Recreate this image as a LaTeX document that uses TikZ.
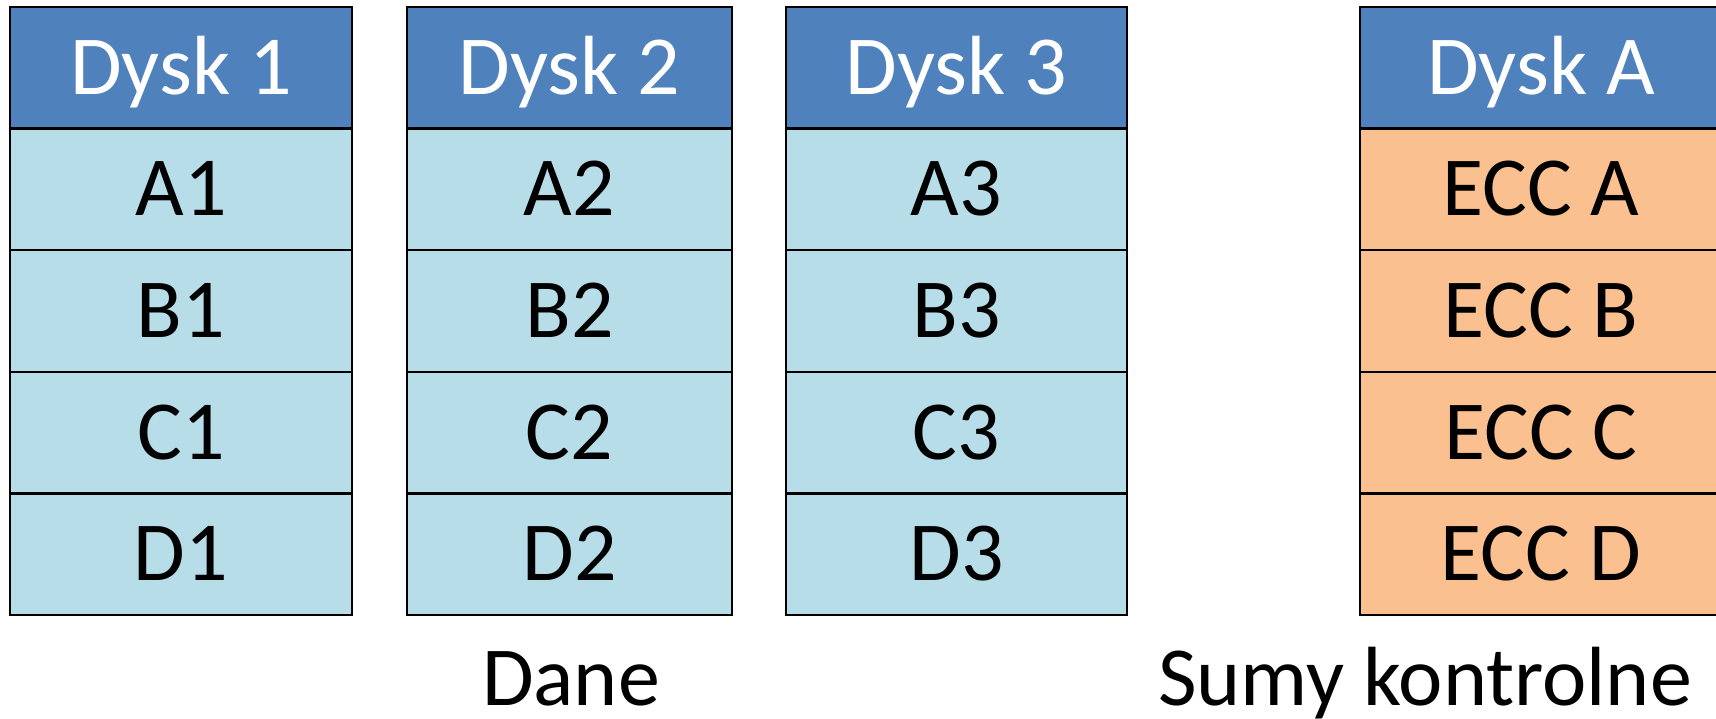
\documentclass[tikz,border=0pt]{standalone}
\usepackage{fontspec}
\setmainfont{Carlito}
\definecolor{headblue}{HTML}{4F81BD}
\definecolor{lightblue}{HTML}{B7DDE8}
\definecolor{eccorange}{HTML}{FAC090}
\tikzset{
  cell/.style={draw=black, line width=2.5pt, minimum height=121.6pt, inner sep=0pt,
    text height=53pt, text depth=0pt, font=\fontsize{84}{100}\selectfont},
  head/.style={cell, fill=headblue, text=white},
  datacell/.style={cell, fill=lightblue},
  ecccell/.style={cell, fill=eccorange},
  caption/.style={anchor=base, inner sep=0pt, font=\fontsize{84}{100}\selectfont}
}
\begin{document}
\begin{tikzpicture}[x=1pt,y=-1pt]
\useasboundingbox (0,0) rectangle (1716,718);
% column 1
\node[head, minimum width=342pt] (h1) at (181,67.8) {Dysk 1};
\node[datacell, minimum width=342pt] (a1) at (181,189.4) {A1};
\node[datacell, minimum width=342pt] (b1) at (181,311.0) {B1};
\node[datacell, minimum width=342pt] (c1) at (181,432.6) {C1};
\node[datacell, minimum width=342pt] (d1) at (181,554.2) {D1};
% column 2
\node[head, minimum width=325pt] (h2) at (569.5,67.8) {Dysk 2};
\node[datacell, minimum width=325pt] (a2) at (569.5,189.4) {A2};
\node[datacell, minimum width=325pt] (b2) at (569.5,311.0) {B2};
\node[datacell, minimum width=325pt] (c2) at (569.5,432.6) {C2};
\node[datacell, minimum width=325pt] (d2) at (569.5,554.2) {D2};
% column 3
\node[head, minimum width=341pt] (h3) at (956.5,67.8) {Dysk 3};
\node[datacell, minimum width=341pt] (a3) at (956.5,189.4) {A3};
\node[datacell, minimum width=341pt] (b3) at (956.5,311.0) {B3};
\node[datacell, minimum width=341pt] (c3) at (956.5,432.6) {C3};
\node[datacell, minimum width=341pt] (d3) at (956.5,554.2) {D3};
% column A
\node[head, minimum width=362pt] (hA) at (1541,67.8) {Dysk A};
\node[ecccell, minimum width=362pt] (eA) at (1541,189.4) {ECC A};
\node[ecccell, minimum width=362pt] (eB) at (1541,311.0) {ECC B};
\node[ecccell, minimum width=362pt] (eC) at (1541,432.6) {ECC C};
\node[ecccell, minimum width=362pt] (eD) at (1541,554.2) {ECC D};
% captions
\node[caption] (dane) at (571,705) {Dane};
\node[caption] (sumy) at (1425,705) {Sumy kontrolne};
\end{tikzpicture}
\end{document}
